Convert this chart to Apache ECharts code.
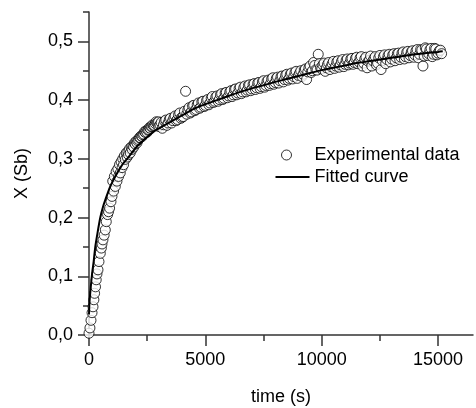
<!DOCTYPE html>
<html>
<head>
<meta charset="utf-8">
<script src="https://cdn.jsdelivr.net/npm/echarts@6/dist/echarts.min.js"></script>
<style>
html,body{margin:0;padding:0;background:#fff;}
#chart{width:476px;height:408px;}
</style>
</head>
<body>
<div id="chart"></div>
<script>
// Experimental data, set A: time (s)
var expTime = [0, 40, 85, 130, 172, 210, 240, 280, 310, 343, 386, 429, 485, 530, 558, 600, 650, 700, 742, 798, 840, 884, 944, 987, 1056, 1130, 1202, 1270, 1343, 1420, 1485, 1558, 1640, 1700, 1773, 1850, 1920, 1987, 2060, 2130, 2202, 2280, 2350, 2420, 2489, 2560, 2630, 2700, 2773, 2850, 2920, 2990,
  3050, 3150, 3250, 3350, 3450, 3550, 3650, 3750, 3850, 3950, 4050, 4150, 4250, 4350, 4450, 4550, 4650, 4750, 4850, 4950,
  5050, 5150, 5250, 5350, 5450, 5550, 5650, 5750, 5850, 5950, 6050, 6150, 6250, 6350, 6450, 6550, 6650, 6750, 6850, 6950,
  7050, 7150, 7250, 7350, 7450, 7550, 7650, 7750, 7850, 7950, 8050, 8150, 8250, 8350, 8450, 8550, 8650, 8750, 8850, 8950,
  9050, 9150, 9250, 9350, 9450, 9550, 9650, 9750, 9850, 9950, 10050, 10150, 10250, 10350, 10450, 10550, 10650, 10750, 10850, 10950,
  11050, 11150, 11250, 11350, 11450, 11550, 11650, 11750, 11850, 11950, 12050, 12150, 12250, 12350, 12450, 12550, 12650, 12750, 12850, 12950,
  13050, 13150, 13250, 13350, 13450, 13550, 13650, 13750, 13850, 13950, 14050, 14150, 14250, 14350, 14450, 14550, 14650, 14750, 14850, 14950,
  15050, 15150];
// Experimental data, set A: X (Sb)
var expX = [0.003, 0.012, 0.025, 0.038, 0.048, 0.060, 0.071, 0.082, 0.094, 0.104, 0.111, 0.125, 0.139, 0.148, 0.155, 0.162, 0.170, 0.179, 0.193, 0.205, 0.210, 0.216, 0.227, 0.236, 0.245, 0.253, 0.262, 0.270, 0.276, 0.285, 0.290, 0.299, 0.303, 0.307, 0.310, 0.316, 0.320, 0.325, 0.327, 0.333, 0.336, 0.338, 0.342, 0.345, 0.345, 0.350, 0.352, 0.355, 0.356, 0.360, 0.361, 0.363,
  0.358, 0.352, 0.364, 0.357, 0.367, 0.361, 0.370, 0.365, 0.375, 0.369, 0.372, 0.415, 0.383, 0.378, 0.390, 0.382, 0.392, 0.386, 0.397, 0.389,
  0.399, 0.392, 0.403, 0.396, 0.405, 0.398, 0.409, 0.401, 0.412, 0.404, 0.414, 0.406, 0.418, 0.409, 0.420, 0.411, 0.421, 0.414, 0.425, 0.416,
  0.427, 0.418, 0.429, 0.420, 0.431, 0.422, 0.432, 0.425, 0.436, 0.427, 0.437, 0.429, 0.440, 0.431, 0.442, 0.434, 0.444, 0.436, 0.447, 0.437,
  0.446, 0.440, 0.451, 0.435, 0.455, 0.447, 0.464, 0.452, 0.478, 0.455, 0.460, 0.449, 0.461, 0.452, 0.462, 0.454, 0.465, 0.456, 0.466, 0.457,
  0.468, 0.460, 0.470, 0.461, 0.471, 0.462, 0.472, 0.458, 0.470, 0.455, 0.468, 0.458, 0.471, 0.460, 0.472, 0.452, 0.474, 0.462, 0.476, 0.465,
  0.477, 0.467, 0.479, 0.469, 0.480, 0.470, 0.481, 0.472, 0.482, 0.473, 0.484, 0.472, 0.486, 0.458, 0.489, 0.476, 0.486, 0.474, 0.488, 0.477,
  0.484, 0.479];
// Experimental data, set B (interleaved readings): time (s)
var expTime2 = [1020, 1090, 1165, 1240, 1310, 1380, 1450, 1520, 1600, 1670, 1740, 1810, 1885, 1955, 2025, 2095, 2165, 2240, 2315, 2385, 2455, 2525, 2595, 2665, 2740, 2810, 2885, 2955,
  3000, 3100, 3200, 3300, 3400, 3500, 3600, 3700, 3800, 3900, 4000, 4100, 4200, 4300, 4400, 4500, 4600, 4700, 4800, 4900,
  5000, 5100, 5200, 5300, 5400, 5500, 5600, 5700, 5800, 5900, 6000, 6100, 6200, 6300, 6400, 6500, 6600, 6700, 6800, 6900,
  7000, 7100, 7200, 7300, 7400, 7500, 7600, 7700, 7800, 7900, 8000, 8100, 8200, 8300, 8400, 8500, 8600, 8700, 8800, 8900,
  9000, 9100, 9200, 9300, 9400, 9500, 9600, 9700, 9800, 9900, 10000, 10100, 10200, 10300, 10400, 10500, 10600, 10700, 10800, 10900,
  11000, 11100, 11200, 11300, 11400, 11500, 11600, 11700, 11800, 11900, 12000, 12100, 12200, 12300, 12400, 12500, 12600, 12700, 12800, 12900,
  13000, 13100, 13200, 13300, 13400, 13500, 13600, 13700, 13800, 13900, 14000, 14100, 14200, 14300, 14400, 14500, 14600, 14700, 14800, 14900,
  15000, 15100];
// Experimental data, set B: X (Sb)
var expX2 = [0.262, 0.270, 0.278, 0.283, 0.290, 0.295, 0.300, 0.305, 0.310, 0.312, 0.317, 0.320, 0.322, 0.327, 0.330, 0.331, 0.336, 0.339, 0.341, 0.346, 0.348, 0.349, 0.353, 0.355, 0.358, 0.357, 0.363, 0.362,
  0.355, 0.362, 0.358, 0.366, 0.361, 0.369, 0.365, 0.373, 0.367, 0.378, 0.371, 0.381, 0.376, 0.387, 0.380, 0.391, 0.384, 0.395, 0.388, 0.398,
  0.391, 0.401, 0.395, 0.406, 0.398, 0.407, 0.401, 0.411, 0.403, 0.413, 0.407, 0.416, 0.409, 0.419, 0.412, 0.422, 0.414, 0.424, 0.417, 0.426,
  0.419, 0.428, 0.421, 0.430, 0.423, 0.433, 0.425, 0.434, 0.428, 0.438, 0.430, 0.439, 0.433, 0.441, 0.435, 0.444, 0.437, 0.446, 0.440, 0.449,
  0.442, 0.450, 0.444, 0.453, 0.448, 0.458, 0.450, 0.459, 0.451, 0.462, 0.453, 0.463, 0.455, 0.464, 0.457, 0.466, 0.458, 0.467, 0.460, 0.469,
  0.461, 0.470, 0.463, 0.471, 0.464, 0.473, 0.465, 0.474, 0.463, 0.473, 0.466, 0.475, 0.467, 0.474, 0.463, 0.476, 0.467, 0.477, 0.469, 0.478,
  0.470, 0.479, 0.472, 0.480, 0.473, 0.482, 0.474, 0.483, 0.476, 0.484, 0.477, 0.486, 0.478, 0.485, 0.475, 0.487, 0.479, 0.488, 0.478, 0.487,
  0.480, 0.485];
// Fitted curve
var fitTime = [0, 20, 50, 100, 150, 200, 270, 350, 485, 600, 700, 800, 914, 1050, 1200, 1350, 1485, 1700, 2060, 2500, 2918, 3500, 4000, 4500, 5000, 5500, 6000, 6500, 7000, 7500, 8000, 8500, 9000, 9500, 10000, 10500, 11000, 11500, 12000, 12500, 13000, 13500, 14000, 14500, 15000, 15200];
var fitX = [0.035, 0.055, 0.070, 0.092, 0.110, 0.125, 0.150, 0.170, 0.200, 0.218, 0.230, 0.241, 0.253, 0.264, 0.275, 0.285, 0.293, 0.303, 0.321, 0.337, 0.350, 0.363, 0.374, 0.385, 0.393, 0.400, 0.407, 0.414, 0.420, 0.425, 0.431, 0.436, 0.441, 0.446, 0.451, 0.455, 0.459, 0.463, 0.466, 0.469, 0.472, 0.475, 0.478, 0.480, 0.482, 0.483];
// Ticks
var yMajorTicks = [0, 0.1, 0.2, 0.3, 0.4, 0.5];
var yMinorTicks = [0.05, 0.15, 0.25, 0.35, 0.45, 0.55];
var xMajorTicks = [0, 5000, 10000, 15000];
var xMinorTicks = [2500, 7500, 12500];

var font = 'Liberation Sans, Arial, sans-serif';
var axisCol = '#333';

function zip(a, b) { return a.map(function (v, i) { return [v, b[i]]; }); }

var expData = zip(expTime, expX).concat(zip(expTime2, expX2)).sort(function (a, b) { return a[0] - b[0]; });

var chart = echarts.init(document.getElementById('chart'), null, {renderer: 'canvas'});
var common = {min: 0, type: 'value', splitLine: {show: false}};
chart.setOption({
  animation: false,
  backgroundColor: '#fff',
  grid: {left: 89, right: 3, top: 12, bottom: 73, containLabel: false, outerBoundsMode: 'none'},
  legend: {
    left: 270, top: 141, orient: 'vertical', itemWidth: 34, itemHeight: 10, itemGap: 4,
    textStyle: {fontFamily: font, fontSize: 18, color: '#000'},
    data: [
      {name: 'Experimental data', icon: 'path://M0,0 M34,10 M6,5 A5,5 0 1,1 16,5 A5,5 0 1,1 6,5 Z',
        itemStyle: {color: '#fff', borderColor: '#000', borderWidth: 1}},
      {name: 'Fitted curve', icon: 'path://M0,0 M34,10 M0,4 L34,4 L34,6 L0,6 Z',
        itemStyle: {color: '#000', borderWidth: 0}}
    ]
  },
  xAxis: [
    Object.assign({}, common, {
      max: 16500,
      name: 'time (s)', nameLocation: 'middle', nameGap: 53,
      nameTextStyle: {fontFamily: font, fontSize: 18, color: '#000'},
      axisLine: {show: true, onZero: false, lineStyle: {color: axisCol, width: 1.5}},
      axisTick: {show: true, length: 11, customValues: xMajorTicks, lineStyle: {color: axisCol, width: 1.5}},
      axisLabel: {customValues: xMajorTicks, margin: 16, fontFamily: font, fontSize: 18, color: '#000',
        formatter: function (v) { return String(v); }}
    }),
    Object.assign({}, common, {
      max: 16500, position: 'bottom',
      axisLine: {show: false},
      axisTick: {show: true, length: 6, customValues: xMinorTicks, lineStyle: {color: axisCol, width: 1.5}},
      axisLabel: {show: false}
    })
  ],
  yAxis: [
    Object.assign({}, common, {
      max: 0.55,
      name: 'X (Sb)', nameLocation: 'middle', nameGap: 58,
      nameTextStyle: {fontFamily: font, fontSize: 18, color: '#000'},
      axisLine: {show: true, onZero: false, lineStyle: {color: axisCol, width: 1.5}},
      axisTick: {show: true, length: 11, customValues: yMajorTicks, lineStyle: {color: axisCol, width: 1.5}},
      axisLabel: {customValues: yMajorTicks, margin: 16, fontFamily: font, fontSize: 18, color: '#000',
        formatter: function (v) { return v.toFixed(1).replace('.', ','); }}
    }),
    Object.assign({}, common, {
      max: 0.55, position: 'left',
      axisLine: {show: false},
      axisTick: {show: true, length: 6, customValues: yMinorTicks, lineStyle: {color: axisCol, width: 1.5}},
      axisLabel: {show: false}
    })
  ],
  series: [
    {
      name: 'Experimental data', type: 'scatter', xAxisIndex: 0, yAxisIndex: 0,
      data: expData, symbol: 'circle', symbolSize: 10,
      itemStyle: {color: '#fff', borderColor: '#000', borderWidth: 1}, z: 2
    },
    {
      name: 'Fitted curve', type: 'line', xAxisIndex: 0, yAxisIndex: 0,
      data: zip(fitTime, fitX), symbol: 'none', smooth: 0.3,
      lineStyle: {color: '#000', width: 2}, itemStyle: {color: '#000'}, z: 3
    }
  ]
});
</script>
</body>
</html>
